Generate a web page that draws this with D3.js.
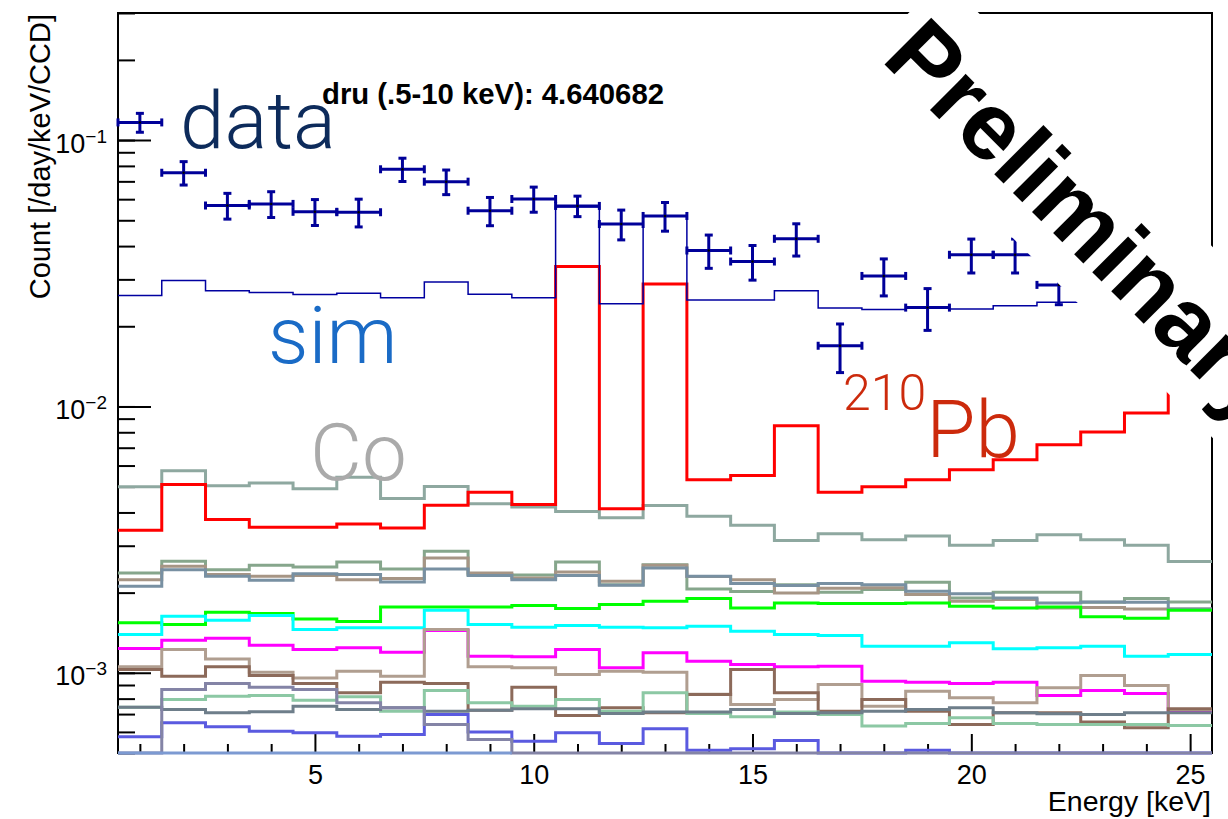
<!DOCTYPE html>
<html>
<head>
<meta charset="utf-8">
<style>
  body { margin: 0; background: #fff; }
  svg { display: block; }
  .axis text { font-family: "Liberation Sans", Arial, sans-serif; fill: #000; }
  .big { font-family: Roboto, "Liberation Sans", sans-serif; font-weight: 300; }
</style>
</head>
<body>
<div id="chart"></div>
<script src="https://d3js.org/d3.v7.min.js"></script>
<script>
  // bin centres [keV], 1 keV wide
  const energy = [1, 2, 3, 4, 5, 6, 7, 8, 9, 10, 11, 12, 13, 14, 15, 16, 17, 18, 19, 20, 21, 22, 23, 24, 25];

  // measured data and errors
  const dataVals = [0.1165, 0.0754, 0.0568, 0.0576, 0.0538, 0.0536, 0.0777, 0.0698, 0.0543, 0.0601, 0.0566, 0.0484, 0.0519,
                    0.0385, 0.0350, 0.0426, 0.0169, 0.0309, 0.0235, 0.0371, 0.0371, 0.0286, 0.030, 0.028, 0.031];
  const dataErr  = [0.0095, 0.0076, 0.0063, 0.0064, 0.0060, 0.0064, 0.0078, 0.0074, 0.0066, 0.0065, 0.0050, 0.0062, 0.0064,
                    0.0055, 0.0052, 0.0059, 0.0035, 0.0049, 0.0042, 0.0054, 0.0054, 0.0045, 0.005, 0.005, 0.005];

  // total simulation
  const simVals = [0.0261, 0.0297, 0.0272, 0.0268, 0.0263, 0.0266, 0.0256, 0.0293, 0.0264, 0.0256, 0.0561, 0.0243, 0.0519,
                   0.0251, 0.0251, 0.0272, 0.0234, 0.0231, 0.0237, 0.0232, 0.0239, 0.0246, 0.025, 0.025, 0.025];

  // 210Pb
  const pb210 = [0.00343, 0.00509, 0.00376, 0.00352, 0.00352, 0.00362, 0.00350, 0.00426, 0.00476, 0.00428, 0.0335, 0.00413, 0.0288,
                 0.00531, 0.00551, 0.00846, 0.00476, 0.00499, 0.00531, 0.00579, 0.00631, 0.00718, 0.00802, 0.00944, 0.0118];

  // cosmogenic Co
  const cobalt = [0.00499, 0.00574, 0.00504, 0.00516, 0.00491, 0.00542, 0.00451, 0.00501, 0.00431, 0.00419, 0.00403, 0.00382, 0.00425,
                  0.00387, 0.00358, 0.00314, 0.00333, 0.00316, 0.00326, 0.00301, 0.00314, 0.00330, 0.00316, 0.00301, 0.00262];

  // other components
  const compA = [0.002371, 0.002621, 0.002440, 0.002532, 0.002497, 0.002608, 0.002451, 0.002858, 0.002337, 0.002331, 0.002608, 0.002143, 0.002547,
                 0.002065, 0.002018, 0.002143, 0.002006, 0.002053, 0.002186, 0.001911, 0.002006, 0.002006, 0.001840, 0.001900, 0.001846];
  const compB = [0.002238, 0.002510, 0.002337, 0.002303, 0.002317, 0.002238, 0.002258, 0.002700, 0.002371, 0.002271, 0.002392, 0.002206, 0.002532,
                 0.002297, 0.002238, 0.001995, 0.002076, 0.002084, 0.001966, 0.001855, 0.001883, 0.001753, 0.001758, 0.001738, 0.001738];
  const compC = [0.002112, 0.002440, 0.002303, 0.002225, 0.002357, 0.002337, 0.002191, 0.002455, 0.002317, 0.002238, 0.002317, 0.002130, 0.002476,
                 0.002303, 0.002162, 0.002125, 0.002162, 0.002143, 0.002023, 0.001979, 0.001911, 0.001830, 0.001846, 0.001840, 0.001738];
  const compGreen = [0.001540, 0.001518, 0.001688, 0.001669, 0.001594, 0.001557, 0.001768, 0.001768, 0.001768, 0.001788, 0.001742, 0.001804, 0.001855,
                     0.001900, 0.001753, 0.001830, 0.001820, 0.001820, 0.001830, 0.001777, 0.001753, 0.001768, 0.001622, 0.001603, 0.001717];
  const compCyan = [0.001392, 0.001630, 0.001575, 0.001640, 0.001453, 0.001475, 0.001475, 0.001717, 0.001518, 0.001483, 0.001505, 0.001483, 0.001475,
                    0.001495, 0.001432, 0.001392, 0.001380, 0.001258, 0.001258, 0.001296, 0.001230, 0.001241, 0.001258, 0.001154, 0.001171];
  const compMagenta = [0.001233, 0.001325, 0.001348, 0.001269, 0.001223, 0.001241, 0.001195, 0.001441, 0.001154, 0.001148, 0.001223, 0.001044, 0.001189,
                       0.001105, 0.001074, 0.001053, 0.001058, 0.000930, 0.000922, 0.000912, 0.000922, 0.000822, 0.000859, 0.000836, 0.000718];
  const compTan = [0.001053, 0.001223, 0.001128, 0.001005, 0.000957, 0.001014, 0.000971, 0.001453, 0.001053, 0.001044, 0.000985, 0.001014, 0.001005,
                   0.000830, 0.000761, 0.000794, 0.000904, 0.000749, 0.000853, 0.000806, 0.000772, 0.000878, 0.000977, 0.000897, 0.000729];
  const compBrown = [0.001029, 0.000971, 0.001053, 0.000977, 0.000912, 0.000841, 0.000922, 0.000912, 0.000724, 0.000883, 0.000692, 0.000739, 0.000708,
                     0.000829, 0.001029, 0.000841, 0.000718, 0.000794, 0.000718, 0.000640, 0.000708, 0.000708, 0.000653, 0.000622, 0.000733];
  const compMint = [0.000743, 0.000794, 0.000817, 0.000822, 0.000789, 0.000813, 0.000718, 0.000858, 0.000772, 0.000749, 0.000794, 0.000718, 0.000841,
                    0.000704, 0.000684, 0.000712, 0.000698, 0.000631, 0.000645, 0.000678, 0.000645, 0.000640, 0.000640, 0.000640, 0.000634];
  const compSlate = [0.000743, 0.000729, 0.000708, 0.000714, 0.000749, 0.000729, 0.000739, 0.000718, 0.000724, 0.000733, 0.000733, 0.000704, 0.000712,
                     0.000712, 0.000729, 0.000704, 0.000708, 0.000718, 0.000729, 0.000739, 0.000708, 0.000702, 0.000698, 0.000708, 0.000708];
  const compBlue = [0.000575, 0.000649, 0.000627, 0.000604, 0.000596, 0.000578, 0.000587, 0.000698, 0.000599, 0.000554, 0.000596, 0.000543, 0.000617,
                    0.000512, 0.000519, 0.000557, 0, 0, 0.000512, 0, 0, 0, 0, 0, 0];
  const compPurple = [0, 0.000866, 0.000912, 0.000883, 0.000866, 0.000772, 0.000739, 0.000640, 0.000562, 0, 0, 0, 0,
                      0, 0, 0, 0, 0, 0, 0, 0, 0, 0, 0, 0];
  const compLightBlue = [0, 0, 0, 0, 0, 0, 0, 0, 0, null, null, null, null,
                         null, null, null, null, null, null, null, null, null, null, null, null];

  const xMin = 0.5, xMax = 25.5, yMin = 5e-4, yMax = 0.3;
  const W = 1228, H = 819;
  const frame = { left: 118, right: 1212, top: 13, bottom: 753 };

  const svg = d3.select('#chart').append('svg').attr('width', W).attr('height', H);

  const x = d3.scaleLinear().domain([xMin, xMax]).range([frame.left, frame.right]);
  const y = d3.scaleLog().domain([yMin, yMax]).range([frame.bottom, frame.top]);

  // frame
  svg.append('rect')
    .attr('x', frame.left).attr('y', frame.top)
    .attr('width', frame.right - frame.left).attr('height', frame.bottom - frame.top)
    .attr('fill', 'none').attr('stroke', '#000').attr('stroke-width', 2);

  // y axis: minor and major ticks pointing inside
  svg.append('g').attr('class', 'axis')
    .attr('transform', `translate(${frame.left},0)`)
    .call(d3.axisRight(y).tickSize(17).tickFormat(''))
    .call(g => g.select('.domain').remove())
    .call(g => g.selectAll('line').attr('stroke-width', 2));

  const yMajor = [1e-3, 1e-2, 1e-1];
  svg.append('g').attr('class', 'axis')
    .attr('transform', `translate(${frame.left},0)`)
    .call(d3.axisLeft(y).tickValues(yMajor).tickSize(-33).tickPadding(11))
    .call(g => g.select('.domain').remove())
    .call(g => g.selectAll('line').attr('stroke-width', 2))
    .call(g => g.selectAll('text')
      .attr('dy', 12).attr('font-size', 27)
      .text(null)
      .each(function (d) {
        const t = d3.select(this);
        t.append('tspan').text('10');
        t.append('tspan').attr('dy', -10).attr('font-size', 19).text('\u2212' + Math.round(-Math.log10(d)));
      }));

  // x axis
  const xMinor = energy.filter(e => e % 5 !== 0);
  const xMajor = [5, 10, 15, 20, 25];
  svg.append('g').attr('class', 'axis')
    .attr('transform', `translate(0,${frame.bottom})`)
    .call(d3.axisBottom(x).tickValues(xMinor).tickSize(-9).tickFormat(''))
    .call(g => g.select('.domain').remove())
    .call(g => g.selectAll('line').attr('stroke-width', 2));
  svg.append('g').attr('class', 'axis')
    .attr('transform', `translate(0,${frame.bottom})`)
    .call(d3.axisBottom(x).tickValues(xMajor).tickSize(-19).tickPadding(12))
    .call(g => g.select('.domain').remove())
    .call(g => g.selectAll('line').attr('stroke-width', 2))
    .call(g => g.selectAll('text').attr('font-size', 27));

  // axis titles
  svg.append('text')
    .attr('transform', `translate(50,${frame.top + 1}) rotate(-90)`)
    .attr('text-anchor', 'end')
    .attr('font-family', '"Liberation Sans", Arial, sans-serif')
    .attr('font-size', 29)
    .text('Count [/day/keV/CCD]');
  svg.append('text')
    .attr('x', frame.right - 1).attr('y', 811)
    .attr('text-anchor', 'end')
    .attr('font-family', '"Liberation Sans", Arial, sans-serif')
    .attr('font-size', 28.5)
    .text('Energy [keV]');

  // step outline of a 1 keV binned histogram
  function stepPath(vals) {
    let d = '', open = false;
    vals.forEach((v, i) => {
      if (v == null) { open = false; return; }
      const yy = y(Math.max(v, yMin));
      d += (open ? `V${yy}` : `M${x(energy[i] - 0.5)},${yy}`) + `H${x(energy[i] + 0.5)}`;
      open = true;
    });
    return d;
  }

  const hists = [
    { vals: compA, color: '#86a68c', w: 3 },
    { vals: compB, color: '#a69585', w: 3 },
    { vals: compC, color: '#7890a2', w: 3 },
    { vals: compGreen, color: '#00ff00', w: 3 },
    { vals: compCyan, color: '#00ffff', w: 3 },
    { vals: compMagenta, color: '#ff00ff', w: 3 },
    { vals: compTan, color: '#b09e90', w: 3 },
    { vals: compBrown, color: '#8c6a5a', w: 3 },
    { vals: compMint, color: '#8cc8a4', w: 3 },
    { vals: compSlate, color: '#6e7e8a', w: 3 },
    { vals: compBlue, color: '#5a5ae0', w: 3 },
    { vals: compPurple, color: '#8484a6', w: 3 },
    { vals: compLightBlue, color: '#7c9ad2', w: 3 },
    { vals: cobalt, color: '#8ea8a0', w: 3 },
    { vals: pb210, color: '#ff0000', w: 3 },
    { vals: simVals, color: '#0000a0', w: 1.5 }
  ];

  svg.append('g').selectAll('path')
    .data(hists)
    .enter()
    .append('path')
    .attr('d', d => stepPath(d.vals))
    .attr('fill', 'none')
    .attr('stroke', d => d.color)
    .attr('stroke-width', d => d.w);

  // data points with error bars
  const dataColor = '#000099';
  const pts = svg.append('g').selectAll('g')
    .data(energy.map((e, i) => ({ e, v: dataVals[i], err: dataErr[i] })))
    .enter().append('g')
    .attr('stroke', dataColor).attr('stroke-width', 3);
  pts.append('line')
    .attr('x1', d => x(d.e - 0.5)).attr('x2', d => x(d.e + 0.5))
    .attr('y1', d => y(d.v)).attr('y2', d => y(d.v));
  pts.append('line')
    .attr('x1', d => x(d.e)).attr('x2', d => x(d.e))
    .attr('y1', d => y(d.v + d.err)).attr('y2', d => y(d.v - d.err));
  [-1, 1].forEach(s => {
    pts.append('line')
      .attr('x1', d => x(d.e) - 4).attr('x2', d => x(d.e) + 4)
      .attr('y1', d => y(d.v + s * d.err)).attr('y2', d => y(d.v + s * d.err));
    pts.append('line')
      .attr('x1', d => x(d.e + s * 0.5)).attr('x2', d => x(d.e + s * 0.5))
      .attr('y1', d => y(d.v) - 4).attr('y2', d => y(d.v) + 4);
  });
  pts.append('circle')
    .attr('cx', d => x(d.e)).attr('cy', d => y(d.v)).attr('r', 1.2)
    .attr('fill', '#000').attr('stroke', 'none');

  // big labels
  svg.append('text').attr('class', 'big').attr('x', 180).attr('y', 148)
    .attr('font-size', 80).attr('fill', '#0d2b5b').text('data');
  svg.append('text').attr('class', 'big').attr('x', 268).attr('y', 363)
    .attr('font-size', 80).attr('fill', '#1a6bc6').text('sim');
  svg.append('text').attr('class', 'big').attr('x', 310).attr('y', 480)
    .attr('font-size', 80).attr('fill', '#aaaaaa').text('Co');
  const pbLabel = svg.append('text').attr('class', 'big').attr('x', 843).attr('y', 457)
    .attr('fill', '#cc2a0c');
  pbLabel.append('tspan').attr('font-size', 50).attr('dy', -47).text('210');
  pbLabel.append('tspan').attr('font-size', 80).attr('dy', 47).text('Pb');

  svg.append('text')
    .attr('x', 322).attr('y', 104)
    .attr('font-family', '"Liberation Sans", Arial, sans-serif')
    .attr('font-weight', 'bold').attr('font-size', 29.3)
    .text('dru (.5-10 keV): 4.640682');

  // Preliminary stamp with its white box
  const stamp = svg.append('g').attr('transform', 'translate(880,60) rotate(45)');
  stamp.append('rect').attr('x', -13).attr('y', -103).attr('width', 800).attr('height', 135).attr('fill', '#fff');
  stamp.append('text')
    .attr('font-family', '"Liberation Sans", Arial, sans-serif')
    .attr('font-weight', 'bold').attr('font-size', 96)
    .text('Preliminary');
</script>
</body>
</html>
